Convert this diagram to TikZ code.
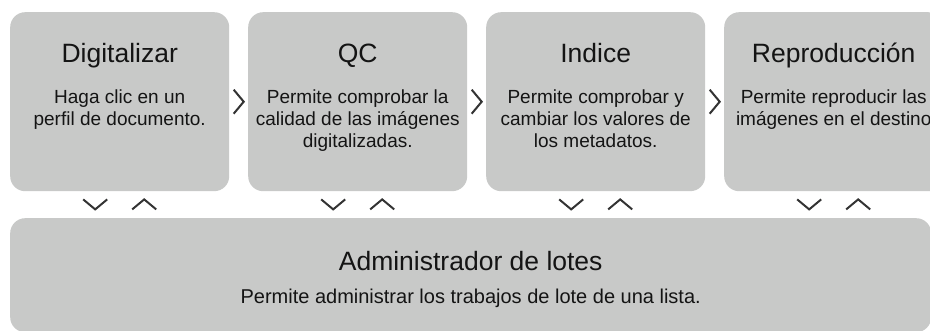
\documentclass[tikz,border=0pt]{standalone}
\usepackage{fontspec}
\setmainfont{Liberation Sans}
\usetikzlibrary{calc}
\definecolor{boxgrey}{RGB}{200,201,200}
\definecolor{txtcol}{RGB}{20,20,20}
\definecolor{chevcol}{RGB}{51,51,51}
\begin{document}
\begin{tikzpicture}[x=1pt,y=-1pt,
  stage/.style={fill=boxgrey, rounded corners=15pt, minimum width=219pt, minimum height=179pt, inner sep=0pt, anchor=north west},
  ttl/.style={font=\fontsize{26.5}{30}\selectfont, text=txtcol, anchor=base, inner sep=0pt},
  bodytxt/.style={font=\fontsize{19}{22}\selectfont, text=txtcol, align=center, anchor=north, inner sep=0pt},
  chevron/.style={draw=chevcol, line width=2pt, line join=miter}]
\useasboundingbox (0,0) rectangle (930,331);
\clip (0,0) rectangle (930,331);
% stages
\node[stage] (s1) at (10,12) {};
\node[stage] (s2) at (248,12) {};
\node[stage] (s3) at (486,12) {};
\node[stage] (s4) at (724,12) {};
\node[fill=boxgrey, rounded corners=15pt, minimum width=921pt, minimum height=114pt, inner sep=0pt, anchor=north west] (adm) at (10,218) {};
% titles
\node[ttl] (t1) at ($(s1.north)+(0,51)$) {Digitalizar};
\node[ttl] (t2) at ($(s2.north)+(0,51)$) {QC};
\node[ttl] (t3) at ($(s3.north)+(0,51)$) {Indice};
\node[ttl] (t4) at ($(s4.north)+(0,51)$) {Reproducción};
\node[ttl] (t5) at ($(adm.north)+(0,53)$) {Administrador de lotes};
% bodies
\node[bodytxt] (b1) at ($(s1.north)+(0,78)$) {Haga clic en un\\perfil de documento.};
\node[bodytxt] (b2) at ($(s2.north)+(0,78)$) {Permite comprobar la\\calidad de las imágenes\\digitalizadas.};
\node[bodytxt] (b3) at ($(s3.north)+(0,78)$) {Permite comprobar y\\cambiar los valores de\\los metadatos.};
\node[bodytxt] (b4) at ($(s4.north)+(0,78)$) {Permite reproducir las\\imágenes en el destino};
\node[bodytxt, font=\fontsize{20}{22}\selectfont, anchor=base] (b5) at ($(adm.north)+(0,86)$) {Permite administrar los trabajos de lote de una lista.};
% right chevrons
\foreach \a/\b in {s1/s2,s2/s3,s3/s4}{
  \draw[chevron] ($(\a.east)!0.5!(\b.west)+(-5,-12)$) -- ++(10,12) -- ++(-10,12);
}
% down / up chevrons
\foreach \s in {s1,s2,s3,s4}{
  \draw[chevron] ($(\s.south)+(-36.5,8)$) -- ++(12,10) -- ++(12,-10);
  \draw[chevron] ($(\s.south)+(12.5,18)$) -- ++(12,-10) -- ++(12,10);
}
\end{tikzpicture}
\end{document}
